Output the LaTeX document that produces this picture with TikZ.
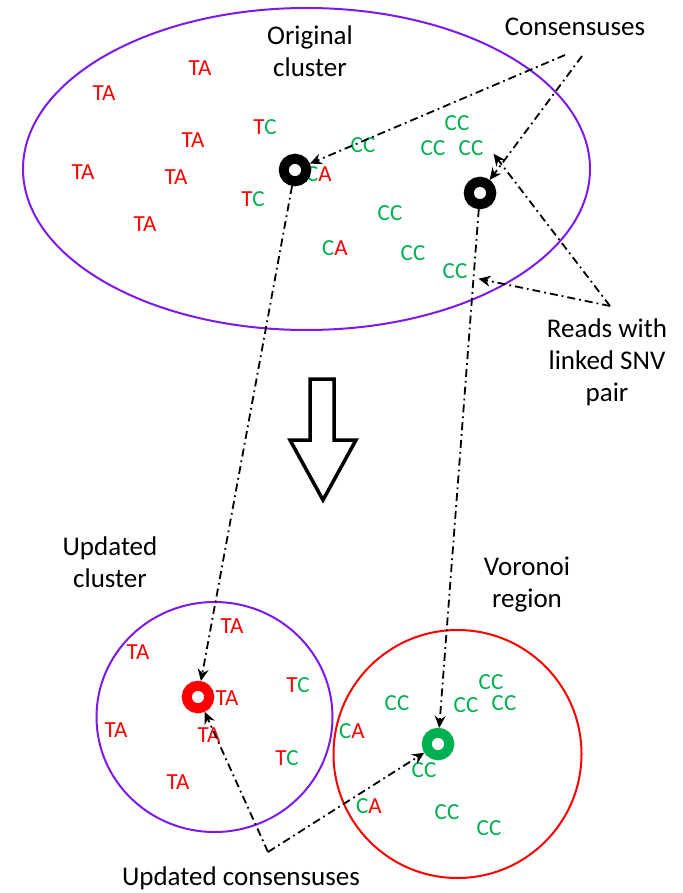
\documentclass[tikz,border=0pt]{standalone}
\usepackage{fontspec}
\setmainfont{Carlito}
\usetikzlibrary{arrows.meta}
\definecolor{grn}{RGB}{0,176,80}
\definecolor{vio}{RGB}{125,25,235}
\newcommand{\tcx}{\textcolor{red}{T}\textcolor{grn}{C}}
\newcommand{\cax}{\textcolor{grn}{C}\textcolor{red}{A}}
\begin{document}
\begin{tikzpicture}[x=1pt,y=-1pt,
  lbl/.style={font=\fontsize{27}{32}\selectfont, align=center, inner sep=0pt, text=black},
  base/.style={font=\fontsize{23}{25}\selectfont, inner sep=0pt},
  ta/.style={base, text=red},
  cc/.style={base, text=grn},
  ring/.style={circle, draw=#1, line width=10pt, minimum size=22.5pt, inner sep=0pt, outer sep=5pt},
  dd/.style={line width=1.8pt, dash pattern=on 8pt off 4pt on 1.8pt off 4pt},
  arr/.style={dd, -{Stealth[length=12pt,width=11pt,inset=4pt]}},
  bound/.style={line width=2pt}
]
\useasboundingbox (0,0) rectangle (682,893);

% big ellipse and circles
\draw[bound, vio] (306.5,169) ellipse [x radius=283.5, y radius=161];
\draw[bound, vio] (214.5,717) ellipse [x radius=118, y radius=115];
\draw[bound, red] (457.5,754) circle [radius=124];

% labels
\node[lbl] (orig) at (310,51) {Original\\cluster};
\node[lbl] (cons) at (575,27) {Consensuses};
\node[lbl] (reads) at (607,362) {Reads with\\linked SNV\\pair};
\node[lbl] (upd) at (110,562) {Updated\\cluster};
\node[lbl] (vor) at (527,585) {Voronoi\\region};
\node[lbl] (updc) at (241,878) {Updated consensuses};

% original cluster reads
\node[ta] (t1) at (200,68) {TA};
\node[ta] (t2) at (104,93) {TA};
\node[ta] (t3) at (193,140) {TA};
\node[ta] (t4) at (83,172) {TA};
\node[ta] (t5) at (176,177) {TA};
\node[ta] (t6) at (145,224) {TA};
\node[base] (tc1) at (265,127) {\tcx};
\node[base] (tc2) at (253,199) {\tcx};
\node[base] (ca1) at (319,174) {\cax};
\node[base] (ca2) at (335,248) {\cax};
\node[cc] (c1) at (363,145) {CC};
\node[cc] (c2) at (457,123) {CC};
\node[cc] (c3) at (433,148) {CC};
\node[cc] (c4) at (471,148) {CC};
\node[cc] (c5) at (390,213) {CC};
\node[cc] (c6) at (413,253) {CC};
\node[cc] (c7) at (455,271) {CC};

% updated cluster reads
\node[ta] (u1) at (232,626) {TA};
\node[ta] (u2) at (138,652) {TA};
\node[base] (u3) at (298,685) {\tcx};
\node[ta] (u4) at (227,698) {TA};
\node[ta] (u5) at (116,730) {TA};
\node[ta] (u6) at (209,735) {TA};
\node[base] (u7) at (287,758) {\tcx};
\node[ta] (u8) at (178,782) {TA};

% voronoi region reads
\node[cc] (v1) at (397,703) {CC};
\node[cc] (v2) at (491,682) {CC};
\node[cc] (v3) at (466,705) {CC};
\node[cc] (v4) at (504,703) {CC};
\node[base] (v5) at (352,731) {\cax};
\node[cc] (v6) at (424,770) {CC};
\node[base] (v7) at (369,806) {\cax};
\node[cc] (v8) at (447,812) {CC};
\node[cc] (v9) at (489,828) {CC};

% consensus rings
\node[ring=black] (r1) at (295,170) {};
\node[ring=black] (r2) at (480,193) {};
\node[ring=red] (r3) at (198,697) {};
\node[ring=grn] (r4) at (438,744) {};

% big down arrow
\draw[line width=3.5pt, line join=miter] (310,379) -- (334,379) -- (334,440) -- (356,440)
  -- (323,500) -- (290,440) -- (310,440) -- cycle;

% connectors
\coordinate (k1) at (565,55);
\coordinate (k2) at (582,56);
\coordinate (sv) at (610,306);
\coordinate (uc) at (268,852);
\draw[arr] (k1) -- (r1);
\draw[arr] (k2) -- (r2);
\draw[arr] (sv) -- ([xshift=10pt,yshift=2pt]c4.south east);
\draw[arr] (sv) -- ([xshift=11pt]c7.south east);
\draw[arr] (r1) -- (r3);
\draw[arr] (r2) -- (r4);
\draw[arr] (uc) -- (r3);
\draw[arr] (uc) -- (r4);
\end{tikzpicture}
\end{document}
